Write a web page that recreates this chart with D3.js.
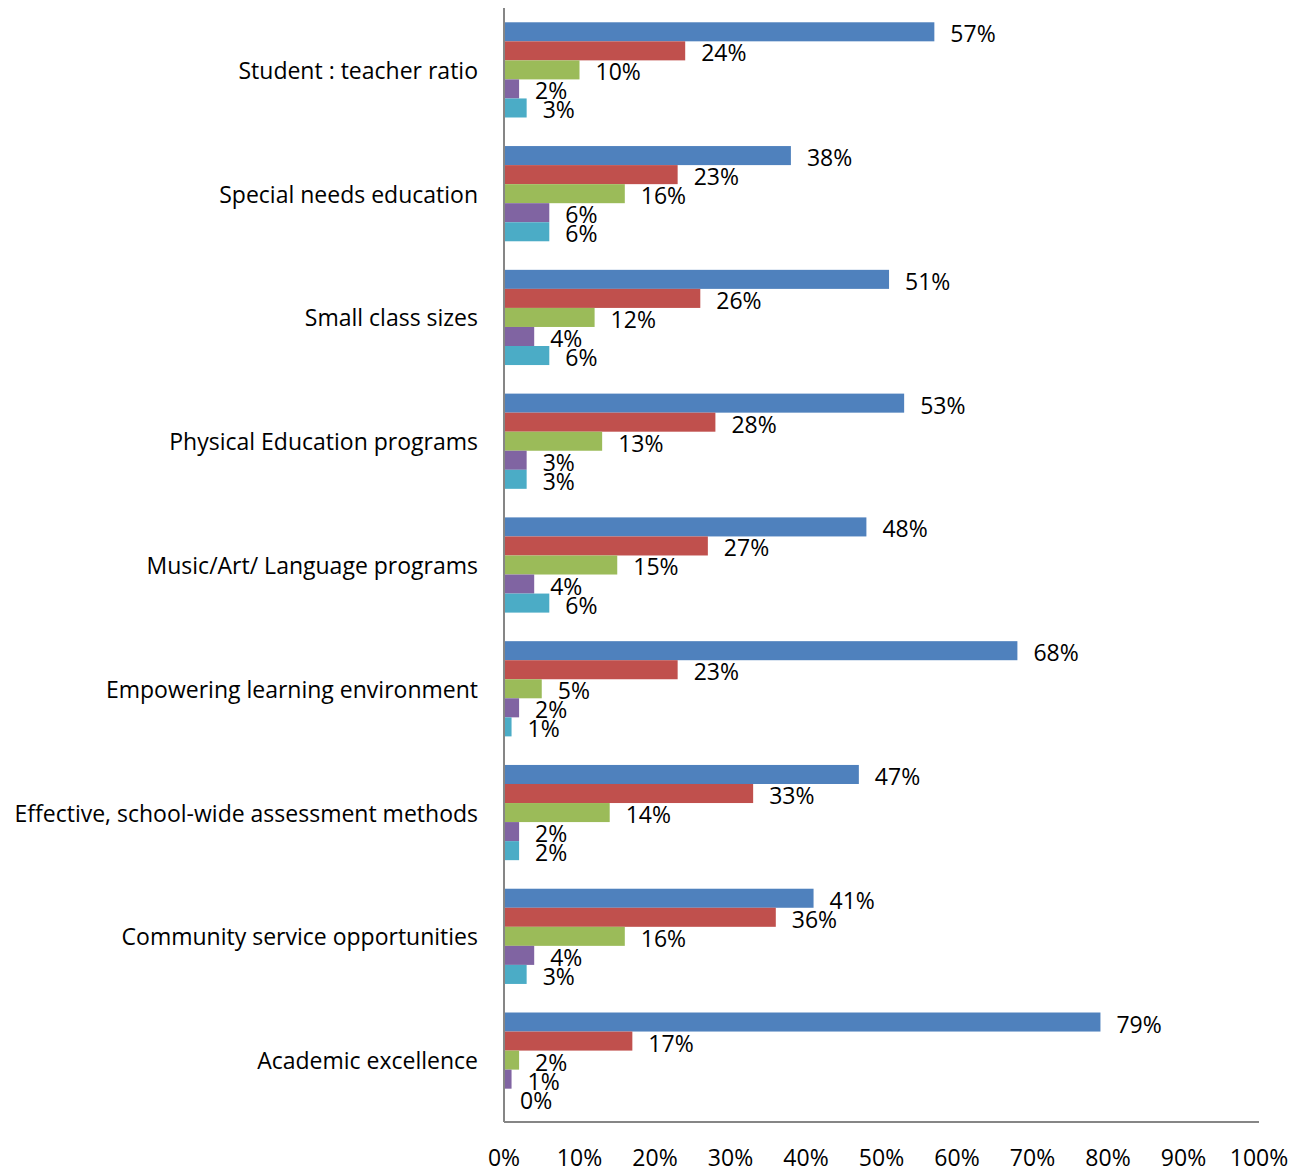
<!DOCTYPE html>
<html>
<head>
<meta charset="utf-8">
<script src="https://cdn.jsdelivr.net/npm/d3@7"></script>
<style>
  html, body { margin: 0; padding: 0; background: #fff; }
  svg { display: block; }
  text { font-family: "Open Sans", Lato, sans-serif; fill: #000; }
</style>
</head>
<body>
<svg id="chart" width="1302" height="1172"></svg>
<script>
// Survey categories, top to bottom
const categories = [
  "Student : teacher ratio",
  "Special needs education",
  "Small class sizes",
  "Physical Education programs",
  "Music/Art/ Language programs",
  "Empowering learning environment",
  "Effective, school-wide assessment methods",
  "Community service opportunities",
  "Academic excellence"
];

// Share of responses per rating (percent), one array per series
const series1 = [57, 38, 51, 53, 48, 68, 47, 41, 79];
const series2 = [24, 23, 26, 28, 27, 23, 33, 36, 17];
const series3 = [10, 16, 12, 13, 15, 5, 14, 16, 2];
const series4 = [2, 6, 4, 3, 4, 2, 2, 4, 1];
const series5 = [3, 6, 6, 3, 6, 1, 2, 3, 0];

const seriesColors = ["#4F81BD", "#C0504D", "#9BBB59", "#8064A2", "#4BACC6"];
const xTicks = [0, 10, 20, 30, 40, 50, 60, 70, 80, 90, 100];

const allSeries = [series1, series2, series3, series4, series5];
const rows = categories.map((c, i) => ({
  name: c,
  values: allSeries.map((s, k) => ({ key: k, value: s[i] }))
}));

const FONT = 23;
const svg = d3.select("#chart");
const margin = { left: 504, right: 43, top: 8, bottom: 50 };
const W = 1302, H = 1172;

const x = d3.scaleLinear().domain([0, 100]).range([margin.left, W - margin.right]);
const y = d3.scaleBand().domain(categories).range([margin.top, H - margin.bottom])
  .paddingInner(1.5 / 6.5).paddingOuter(0.75 / 6.5);
const inner = d3.scaleBand().domain(d3.range(5)).range([0, y.bandwidth()]);

// Bars and value labels
const groups = svg.append("g").selectAll("g").data(rows).join("g")
  .attr("transform", d => `translate(0,${y(d.name)})`);

groups.selectAll("rect").data(d => d.values).join("rect")
  .attr("x", x(0))
  .attr("y", d => inner(d.key))
  .attr("width", d => x(d.value) - x(0))
  .attr("height", inner.bandwidth())
  .attr("fill", d => seriesColors[d.key]);

groups.selectAll("text.val").data(d => d.values).join("text")
  .attr("class", "val")
  .attr("x", d => x(d.value) + 16)
  .attr("y", d => inner(d.key) + inner.bandwidth() / 2 + 1.5)
  .attr("dominant-baseline", "central")
  .attr("font-size", FONT)
  .text(d => d.value + "%");

// Category labels
svg.append("g").selectAll("text").data(categories).join("text")
  .attr("x", margin.left - 26)
  .attr("y", d => y(d) + y.bandwidth() / 2)
  .attr("text-anchor", "end")
  .attr("dominant-baseline", "central")
  .attr("font-size", FONT)
  .text(d => d);

// Axes
const axisY = H - margin.bottom;
svg.append("line")
  .attr("x1", x(0)).attr("x2", x(0))
  .attr("y1", margin.top).attr("y2", axisY)
  .attr("stroke", "#868686").attr("stroke-width", 2);
svg.append("line")
  .attr("x1", x(0)).attr("x2", x(100))
  .attr("y1", axisY).attr("y2", axisY)
  .attr("stroke", "#868686").attr("stroke-width", 2);

svg.append("g").selectAll("text").data(xTicks).join("text")
  .attr("x", d => x(d))
  .attr("y", 1157)
  .attr("text-anchor", "middle")
  .attr("dominant-baseline", "central")
  .attr("font-size", FONT)
  .text(d => d + "%");
</script>
</body>
</html>
